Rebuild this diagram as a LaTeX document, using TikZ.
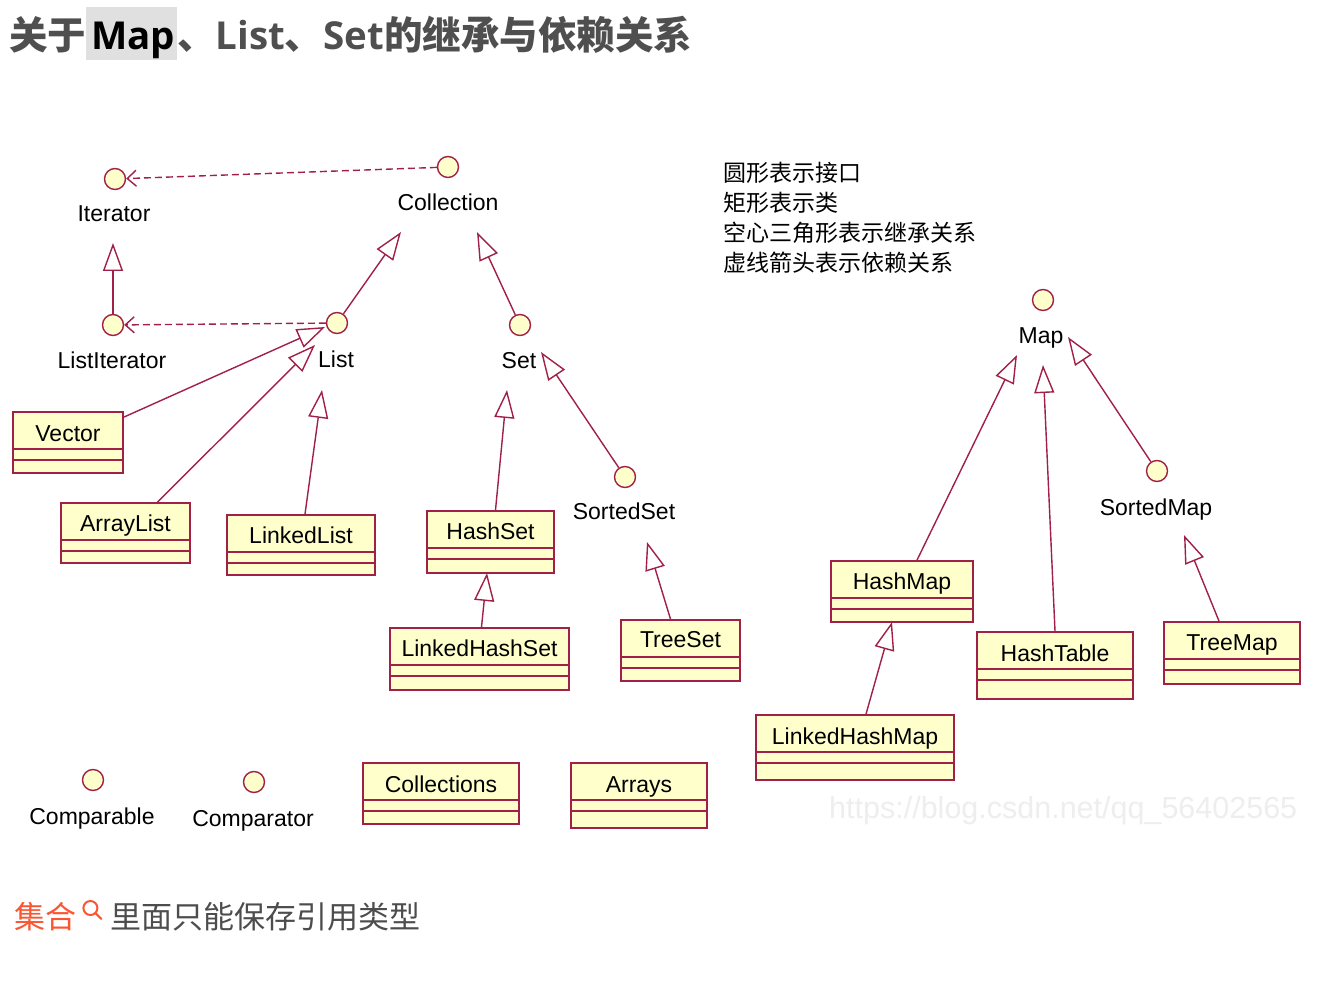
\documentclass[tikz,border=0pt]{standalone}
\usepackage{fontspec}
\usepackage{xcolor}
\usepackage{tikz}
\usetikzlibrary{arrows.meta,positioning,calc}
\setmainfont{Liberation Sans}
\newfontfamily\cjk{Noto Sans CJK SC}
\newfontfamily\titlelatin{Open Sans}

\definecolor{umlline}{RGB}{160,32,72}
\definecolor{umlfill}{RGB}{255,255,204}
\definecolor{titlegray}{RGB}{79,79,79}
\definecolor{hlgray}{RGB}{224,224,224}
\definecolor{csdnorange}{RGB}{252,85,49}
\definecolor{bodygray}{RGB}{77,77,77}
\definecolor{wmgray}{RGB}{238,238,238}

% gray highlight behind a word of the title
\newcommand{\maphl}[1]{{\setlength{\fboxsep}{0pt}\colorbox{hlgray}{\rule[-10pt]{0pt}{53pt}\hspace{5pt}\textcolor{black}{\titlelatin\bfseries #1}\hspace{2pt}}}}
% the two empty compartments of a class box
\newcommand{\compartments}[1]{\draw[classrule] ($(#1.north west)+(0,38)$) -- ($(#1.north east)+(0,38)$) ($(#1.north west)+(0,49)$) -- ($(#1.north east)+(0,49)$);}

\begin{document}
\begin{tikzpicture}[x=1pt, y=-1pt,
  iface/.style={circle, draw=umlline, fill=umlfill, line width=1.4pt, minimum size=21pt, inner sep=0pt},
  ilabel/.style={anchor=base, inner sep=0pt, font=\fontsize{23}{27}\selectfont},
  classbox/.style={rectangle, draw=umlline, fill=umlfill, line width=1.8pt, inner sep=0pt},
  classrule/.style={draw=umlline, line width=1.6pt},
  legendtext/.style={anchor=west, inner sep=0pt, font=\cjk\fontsize{23}{26}\selectfont},
  inherit/.style={draw=umlline, line width=1.4pt, -{Triangle[open, length=28pt, width=20pt]}},
  depend/.style={draw=umlline, line width=1.4pt, dash pattern=on 7pt off 4pt, -{Straight Barb[length=9pt, width=16pt]}}]

  \fill[white] (0,0) rectangle (1341,981);
  \useasboundingbox (0,0) rectangle (1341,981);

  % Title
  \node[anchor=base west, inner sep=0pt, text=titlegray, font=\cjk\bfseries\fontsize{38.5}{42}\selectfont] (title) at (9,50)
    {关于\maphl{Map}、{\titlelatin\bfseries List}、{\titlelatin\bfseries Set}的继承与依赖关系};

  % Legend
  \node[legendtext] (legend1) at (723,173) {圆形表示接口};
  \node[legendtext] (legend2) at (723,203) {矩形表示类};
  \node[legendtext] (legend3) at (723,233) {空心三角形表示继承关系};
  \node[legendtext] (legend4) at (723,263) {虚线箭头表示依赖关系};

  % Interfaces
  \node[iface] (iterator) at (115,179) {};
  \node[ilabel] (iterator-l) at (114,222) {Iterator};
  \node[iface] (collection) at (448,167) {};
  \node[ilabel] (collection-l) at (448,211) {Collection};
  \node[iface] (listiter) at (113,325) {};
  \node[ilabel] (listiter-l) at (112,369) {ListIterator};
  \node[iface] (list) at (337,323) {};
  \node[ilabel] (list-l) at (336,367) {List};
  \node[iface] (set) at (520,325) {};
  \node[ilabel] (set-l) at (519,369) {Set};
  \node[iface] (sortedset) at (625,477) {};
  \node[ilabel] (sortedset-l) at (624,519) {SortedSet};
  \node[iface] (map) at (1043,300) {};
  \node[ilabel] (map-l) at (1041,344) {Map};
  \node[iface] (sortedmap) at (1157,471) {};
  \node[ilabel] (sortedmap-l) at (1156,515) {SortedMap};
  \node[iface] (comparable) at (93,780) {};
  \node[ilabel] (comparable-l) at (92,824) {Comparable};
  \node[iface] (comparator) at (254,782) {};
  \node[ilabel] (comparator-l) at (253,826) {Comparator};

  % Classes
  \node[classbox, minimum width=110pt, minimum height=61pt] (vector) at (68,442.5) {};
  \node[ilabel] (vector-l) at ($(vector.north)+(0,30)$) {Vector};
  \compartments{vector}
  \node[classbox, minimum width=129pt, minimum height=60pt] (arraylist) at (125.5,533) {};
  \node[ilabel] (arraylist-l) at ($(arraylist.north)+(0,29)$) {ArrayList};
  \compartments{arraylist}
  \node[classbox, minimum width=148pt, minimum height=60pt] (linkedlist) at (301,545) {};
  \node[ilabel] (linkedlist-l) at ($(linkedlist.north)+(0,29)$) {LinkedList};
  \compartments{linkedlist}
  \node[classbox, minimum width=127pt, minimum height=62pt] (hashset) at (490.5,542) {};
  \node[ilabel] (hashset-l) at ($(hashset.north)+(0,29)$) {HashSet};
  \compartments{hashset}
  \node[classbox, minimum width=179pt, minimum height=62pt] (linkedhashset) at (479.5,659) {};
  \node[ilabel] (linkedhashset-l) at ($(linkedhashset.north)+(0,29)$) {LinkedHashSet};
  \compartments{linkedhashset}
  \node[classbox, minimum width=119pt, minimum height=61pt] (treeset) at (680.5,650.5) {};
  \node[ilabel] (treeset-l) at ($(treeset.north)+(0,28)$) {TreeSet};
  \compartments{treeset}
  \node[classbox, minimum width=142pt, minimum height=61pt] (hashmap) at (902,591.5) {};
  \node[ilabel] (hashmap-l) at ($(hashmap.north)+(0,29)$) {HashMap};
  \compartments{hashmap}
  \node[classbox, minimum width=156pt, minimum height=67pt] (hashtable) at (1055,665.5) {};
  \node[ilabel] (hashtable-l) at ($(hashtable.north)+(0,30)$) {HashTable};
  \compartments{hashtable}
  \node[classbox, minimum width=136pt, minimum height=62pt] (treemap) at (1232,653) {};
  \node[ilabel] (treemap-l) at ($(treemap.north)+(0,29)$) {TreeMap};
  \compartments{treemap}
  \node[classbox, minimum width=198pt, minimum height=65pt] (linkedhashmap) at (855,747.5) {};
  \node[ilabel] (linkedhashmap-l) at ($(linkedhashmap.north)+(0,30)$) {LinkedHashMap};
  \compartments{linkedhashmap}
  \node[classbox, minimum width=156pt, minimum height=61pt] (collections) at (441,793.5) {};
  \node[ilabel] (collections-l) at ($(collections.north)+(0,30)$) {Collections};
  \compartments{collections}
  \node[classbox, minimum width=136pt, minimum height=65pt] (arrays) at (639,795.5) {};
  \node[ilabel] (arrays-l) at ($(arrays.north)+(0,30)$) {Arrays};
  \compartments{arrays}

  % Arrow ends
  \coordinate (t-iter) at (113,243);
  \coordinate (t-coll-l) at (401,232);
  \coordinate (t-coll-r) at (477,232);
  \coordinate (t-list-a) at (325,327);
  \coordinate (t-list-b) at (315,345);
  \coordinate (t-list-c) at (322,390);
  \coordinate (t-set-a) at (507,390);
  \coordinate (t-set-b) at (541,352);
  \coordinate (t-hashset) at (487,573);
  \coordinate (t-sortedset) at (647,542);
  \coordinate (t-map-a) at (1017,355);
  \coordinate (t-map-b) at (1043,365);
  \coordinate (t-map-c) at (1068,337);
  \coordinate (t-hashmap) at (892,622);
  \coordinate (t-sortedmap) at (1184,535);

  % Dependencies
  \draw[depend] (collection) -- (iterator);
  \draw[depend] (list) -- (listiter);

  % Inheritance
  \draw[inherit] (listiter) -- (t-iter);
  \draw[inherit] (list) -- (t-coll-l);
  \draw[inherit] (set) -- (t-coll-r);
  \draw[inherit] ([yshift=-6pt]vector.north east) -- (t-list-a);
  \draw[inherit] ([xshift=32pt]arraylist.north) -- (t-list-b);
  \draw[inherit] ([xshift=4pt]linkedlist.north) -- (t-list-c);
  \draw[inherit] ([xshift=5pt]hashset.north) -- (t-set-a);
  \draw[inherit] (sortedset) -- (t-set-b);
  \draw[inherit] ([xshift=2pt]linkedhashset.north) -- (t-hashset);
  \draw[inherit] ([xshift=-10pt]treeset.north) -- (t-sortedset);
  \draw[inherit] ([xshift=15pt]hashmap.north) -- (t-map-a);
  \draw[inherit] (hashtable.north) -- (t-map-b);
  \draw[inherit] (sortedmap) -- (t-map-c);
  \draw[inherit] ([xshift=11pt]linkedhashmap.north) -- (t-hashmap);
  \draw[inherit] ([xshift=-13pt]treemap.north) -- (t-sortedmap);

  % Watermark
  \node[anchor=west, inner sep=0pt, text=wmgray, font=\fontsize{30.5}{34}\selectfont] (watermark) at (829,811) {https://blog.csdn.net/qq\_56402565};

  % Bottom note
  \node[anchor=west, inner sep=0pt, text=csdnorange, font=\cjk\fontsize{31}{36}\selectfont] (jihe) at (14,917) {集合};
  \draw[csdnorange, line width=2pt] ($(jihe.east)+(14,-9)$) circle[radius=7pt];
  \draw[csdnorange, line width=2pt, line cap=round] ($(jihe.east)+(19,-4)$) -- ($(jihe.east)+(25,2)$);
  \node[right=34pt of jihe, inner sep=0pt, text=bodygray, font=\cjk\fontsize{31}{36}\selectfont] (note) {里面只能保存引用类型};
\end{tikzpicture}
\end{document}
